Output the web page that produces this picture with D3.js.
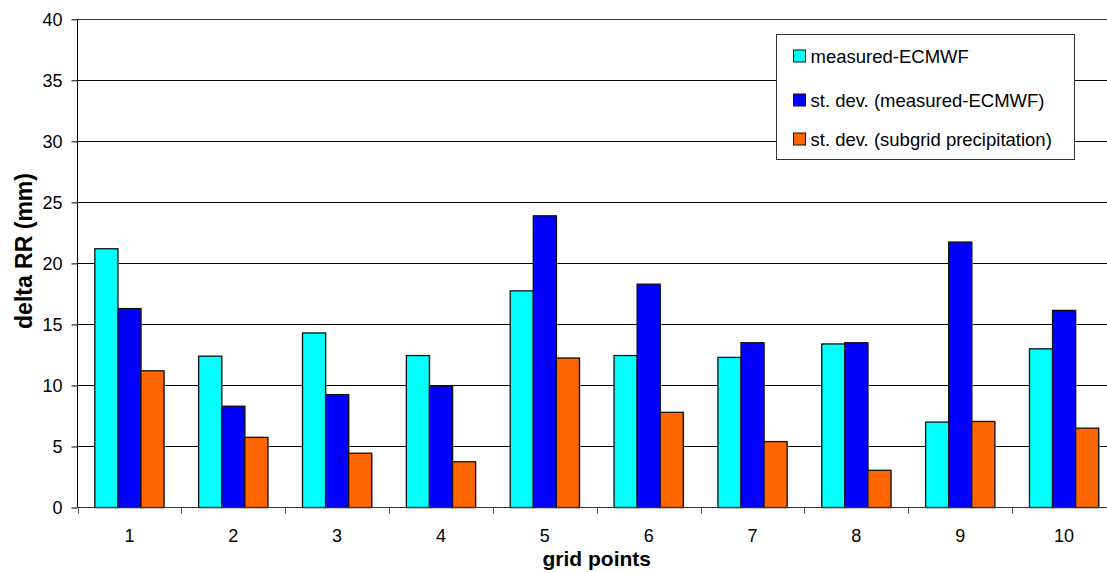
<!DOCTYPE html>
<html>
<head>
<meta charset="utf-8">
<script src="https://cdn.jsdelivr.net/npm/d3@7"></script>
<style>
  html, body { margin: 0; padding: 0; background: #fff; }
  svg { display: block; font-family: "Liberation Sans", Arial, sans-serif; }
</style>
</head>
<body>
<svg id="chart" width="1107" height="572"></svg>
<script>
// Grid points along the x axis
const categories = ["1", "2", "3", "4", "5", "6", "7", "8", "9", "10"];

// Series values (mm)
const measuredMinusEcmwf = [21.2, 12.4, 14.3, 12.45, 17.75, 12.45, 12.3, 13.4, 7.0, 13.0];
const stdDevMeasuredMinusEcmwf = [16.3, 8.3, 9.25, 9.95, 23.9, 18.3, 13.5, 13.5, 21.75, 16.15];
const stdDevSubgridPrecip = [11.2, 5.75, 4.45, 3.75, 12.25, 7.8, 5.4, 3.05, 7.05, 6.5];

const seriesNames = [
  "measured-ECMWF",
  "st. dev. (measured-ECMWF)",
  "st. dev. (subgrid precipitation)"
];
const seriesColors = ["#00FFFF", "#0000FF", "#FF6600"];

// Y axis ticks
const yTicks = [0, 5, 10, 15, 20, 25, 30, 35, 40];

const series = [measuredMinusEcmwf, stdDevMeasuredMinusEcmwf, stdDevSubgridPrecip];

const svg = d3.select("#chart");
const plot = { left: 77.5, right: 1116, top: 19.3, bottom: 507.5 };

const x = d3.scaleBand()
  .domain(categories)
  .range([plot.left, plot.right])
  .paddingInner(0).paddingOuter(0);

// three bars plus a 150% gap per category
const xInner = d3.scaleBand()
  .domain(d3.range(series.length))
  .range([0, x.bandwidth()])
  .paddingOuter(0.25 * 3)
  .paddingInner(0);

const y = d3.scaleLinear().domain([0, 40]).range([plot.bottom, plot.top]);

// Horizontal gridlines
svg.append("g")
  .selectAll("line")
  .data(yTicks.filter(d => d > 0))
  .join("line")
  .attr("x1", plot.left).attr("x2", plot.right)
  .attr("y1", d => Math.round(y(d)) + 0.5).attr("y2", d => Math.round(y(d)) + 0.5)
  .attr("stroke", d => d === 40 ? "#333" : "#000")
  .attr("stroke-width", 1);

// Bars
const groups = svg.append("g")
  .selectAll("g")
  .data(categories)
  .join("g")
  .attr("transform", d => `translate(${x(d)},0)`);

groups.selectAll("rect.shadow")
  .data((d, i) => series.map((s, k) => ({ k, v: s[i] })))
  .join("rect")
  .attr("class", "shadow")
  .attr("x", d => xInner(d.k) + 1)
  .attr("y", d => y(d.v) + 1)
  .attr("width", xInner.bandwidth())
  .attr("height", d => plot.bottom - y(d.v))
  .attr("fill", "#c8c8c8");

groups.selectAll("rect.bar")
  .data((d, i) => series.map((s, k) => ({ k, v: s[i] })))
  .join("rect")
  .attr("class", "bar")
  .attr("x", d => xInner(d.k))
  .attr("y", d => y(d.v))
  .attr("width", xInner.bandwidth())
  .attr("height", d => plot.bottom - y(d.v))
  .attr("fill", d => seriesColors[d.k])
  .attr("stroke", "#111")
  .attr("stroke-width", 1.3);

// Y axis
const yAxis = d3.axisLeft(y).tickValues(yTicks).tickSize(6).tickPadding(9);
const gy = svg.append("g")
  .attr("transform", `translate(${plot.left},0)`)
  .call(yAxis);
gy.select(".domain").attr("stroke", "#000").attr("d", `M0,${plot.top}V${plot.bottom}`);
gy.selectAll(".tick line").attr("stroke", "#000");
gy.selectAll(".tick text")
  .attr("font-size", 18)
  .attr("font-family", "Liberation Sans, Arial, sans-serif")
  .attr("fill", "#000");

// X axis with ticks between categories
const xAxisG = svg.append("g");
xAxisG.append("line")
  .attr("x1", plot.left).attr("x2", plot.right)
  .attr("y1", plot.bottom).attr("y2", plot.bottom)
  .attr("stroke", "#333").attr("stroke-width", 1.2);
xAxisG.selectAll("line.tick")
  .data(categories)
  .join("line")
  .attr("class", "tick")
  .attr("x1", d => Math.round(x(d)) + 0.5).attr("x2", d => Math.round(x(d)) + 0.5)
  .attr("y1", plot.bottom).attr("y2", plot.bottom + 6)
  .attr("stroke", "#555");
xAxisG.selectAll("text")
  .data(categories)
  .join("text")
  .attr("x", d => x(d) + x.bandwidth() / 2)
  .attr("y", 541.5)
  .attr("text-anchor", "middle")
  .attr("font-size", 18)
  .attr("fill", "#000")
  .text(d => d);

// Axis titles
svg.append("text")
  .attr("x", (plot.left + plot.right) / 2)
  .attr("y", 566)
  .attr("text-anchor", "middle")
  .attr("font-size", 21)
  .attr("font-weight", "bold")
  .text("grid points");

svg.append("text")
  .attr("transform", `translate(32,251) rotate(-90)`)
  .attr("text-anchor", "middle")
  .attr("font-size", 23)
  .attr("font-weight", "bold")
  .text("delta RR (mm)");

// Legend
const legend = svg.append("g").attr("transform", "translate(776,34)");
legend.append("rect")
  .attr("x", 0.5).attr("y", 0.5)
  .attr("width", 298).attr("height", 125)
  .attr("fill", "#fff")
  .attr("stroke", "#333").attr("stroke-width", 1);

const rowsY = [22, 66, 105];
const items = legend.selectAll("g.item")
  .data(seriesNames)
  .join("g")
  .attr("class", "item")
  .attr("transform", (d, i) => `translate(17.5,${rowsY[i]})`);
items.append("rect")
  .attr("x", 0).attr("y", -6)
  .attr("width", 12).attr("height", 12)
  .attr("fill", (d, i) => seriesColors[i])
  .attr("stroke", "#111");
items.append("text")
  .attr("x", 17).attr("y", 6.5)
  .attr("font-size", 18.5)
  .attr("fill", "#000")
  .text(d => d);
</script>
</body>
</html>
